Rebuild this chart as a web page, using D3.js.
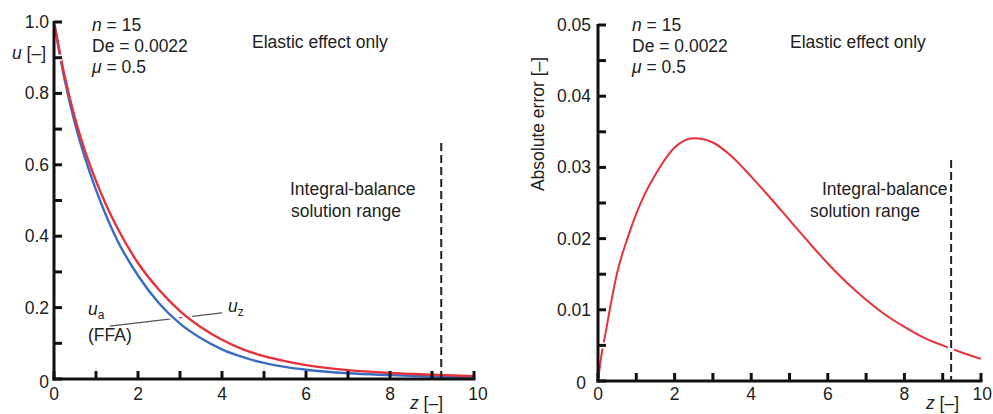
<!DOCTYPE html>
<html>
  <head>
    <meta charset="utf-8">
    <script src="https://d3js.org/d3.v7.min.js"></script>
    <style>
      body { margin: 0; background: #fff; }
      text { font-family: "Liberation Sans", Arial, sans-serif; fill: #222; }
    </style>
  </head>
  <body>
    <div id="main"></div>
    <script>
      // data
      const zLeft = [0, 0.25, 0.5, 0.75, 1, 1.25, 1.5, 2, 2.5, 3, 3.5, 4, 4.5, 5, 5.5, 6, 7, 8, 9, 10];
      const uZ = [1.0, 0.85, 0.73, 0.635, 0.555, 0.485, 0.425, 0.325, 0.25, 0.19, 0.145, 0.11, 0.083, 0.064, 0.05, 0.039, 0.025, 0.017, 0.012, 0.008];
      const uA = [1.0, 0.84, 0.715, 0.615, 0.53, 0.455, 0.39, 0.29, 0.212, 0.155, 0.114, 0.083, 0.061, 0.045, 0.034, 0.026, 0.016, 0.011, 0.007, 0.005];

      const zRight = [0, 0.1, 0.2, 0.3, 0.5, 0.78, 1, 1.2, 1.5, 2, 2.5, 3, 3.5, 4, 4.5, 5, 5.5, 6, 6.5, 7, 7.5, 8, 8.5, 9, 9.5, 10];
      const absErr = [0, 0.004, 0.0068, 0.0098, 0.0152, 0.0202, 0.0235, 0.026, 0.029, 0.0328, 0.0341, 0.0335, 0.0315, 0.0287, 0.0257, 0.0226, 0.0195, 0.0165, 0.0138, 0.0114, 0.0093, 0.0076, 0.0061, 0.005, 0.004, 0.0031];

      const leftYTicks = [0, 0.2, 0.4, 0.6, 0.8, 1.0];
      const leftYTickLabels = ["0", "0.2", "0.4", "0.6", "0.8", "1.0"];
      const rightYTicks = [0, 0.01, 0.02, 0.03, 0.04, 0.05];
      const rightYTickLabels = ["0", "0.01", "0.02", "0.03", "0.04", "0.05"];
      const xTicks = [0, 2, 4, 6, 8, 10];
      const zRangeEnd = 9.22;

      const svg = d3.select("#main").append("svg")
        .attr("width", 993).attr("height", 414);

      const RED = "#e5323b", BLUE = "#3b6cc4";
      const fs = 17.5;

      // ---------- left panel ----------
      const xL = d3.scaleLinear().domain([0, 10]).range([54, 474]);
      const yL = d3.scaleLinear().domain([0, 1]).range([379, 22]);

      // leader line for the labels
      svg.append("line")
        .attr("x1", xL(1.33)).attr("y1", yL(0.148))
        .attr("x2", xL(4.0)).attr("y2", yL(0.185))
        .attr("stroke", "#555").attr("stroke-width", 1.2);

      const lineL = (vals) => d3.line().curve(d3.curveMonotoneX)
        .x((d, i) => xL(zLeft[i])).y((d) => yL(d))(vals);

      // white halo so the leader line breaks around the curves
      svg.append("defs").append("clipPath").attr("id", "clipL")
        .append("rect").attr("x", 40).attr("y", 0).attr("width", 450).attr("height", yL(0) - 3);
      [uA, uZ].forEach((v) => {
        svg.append("path").attr("d", lineL(v)).attr("fill", "none")
          .attr("stroke", "#fff").attr("stroke-width", 7).attr("clip-path", "url(#clipL)");
      });
      svg.append("path").attr("d", lineL(uA)).attr("fill", "none")
        .attr("stroke", BLUE).attr("stroke-width", 2.4);
      svg.append("path").attr("d", lineL(uZ)).attr("fill", "none")
        .attr("stroke", RED).attr("stroke-width", 2.4);

      // dashed line
      svg.append("line")
        .attr("x1", xL(zRangeEnd)).attr("x2", xL(zRangeEnd))
        .attr("y1", 143).attr("y2", yL(0))
        .attr("stroke", "#222").attr("stroke-width", 2).attr("stroke-dasharray", "8,4");

      function drawAxes(x, y, yMinor, xMinor) {
        const g = svg.append("g");
        // y ticks (inward), with white halo
        yMinor.forEach((t) => {
          g.append("line").attr("x1", x(0)).attr("x2", x(0) + 8)
            .attr("y1", y(t)).attr("y2", y(t)).attr("stroke", "#fff").attr("stroke-width", 6);
        });
        yMinor.forEach((t) => {
          g.append("line").attr("x1", x(0)).attr("x2", x(0) + 8)
            .attr("y1", y(t)).attr("y2", y(t)).attr("stroke", "#111").attr("stroke-width", 3);
        });
        xMinor.forEach((t) => {
          g.append("line").attr("x1", x(t)).attr("x2", x(t))
            .attr("y1", y(0)).attr("y2", y(0) - 8).attr("stroke", "#111").attr("stroke-width", 3);
        });
        g.append("line").attr("x1", x(0)).attr("x2", x(0))
          .attr("y1", y(0) + 1.5).attr("y2", y.range()[1] - 1).attr("stroke", "#111").attr("stroke-width", 3);
        g.append("line").attr("x1", x(0) - 1.5).attr("x2", x(10) + 1.5)
          .attr("y1", y(0)).attr("y2", y(0)).attr("stroke", "#111").attr("stroke-width", 3);
      }

      drawAxes(xL, yL, d3.range(0, 11).map((i) => i / 10), d3.range(0, 11));

      leftYTicks.forEach((t, i) => {
        svg.append("text").attr("x", xL(0) - 5).attr("y", yL(t) + (t === 0 ? 9 : 6))
          .attr("text-anchor", "end").attr("font-size", fs).text(leftYTickLabels[i]);
      });
      xTicks.forEach((t) => {
        svg.append("text").attr("x", xL(t) + (t === 10 ? 4 : 0)).attr("y", yL(0) + 21)
          .attr("text-anchor", "middle").attr("font-size", fs).text(t);
      });

      // axis titles
      const uLab = svg.append("text").attr("x", 46).attr("y", 59)
        .attr("text-anchor", "end").attr("font-size", fs);
      uLab.append("tspan").attr("font-style", "italic").text("u");
      uLab.append("tspan").text(" [\u2013]");

      function zTitle(xPos, yPos) {
        const t = svg.append("text").attr("x", xPos).attr("y", yPos).attr("font-size", fs);
        t.append("tspan").attr("font-style", "italic").text("z");
        t.append("tspan").text(" [\u2013]");
      }
      zTitle(410, 409);

      function params(xPos) {
        const a = svg.append("text").attr("x", xPos).attr("y", 31).attr("font-size", fs);
        a.append("tspan").attr("font-style", "italic").text("n");
        a.append("tspan").text(" = 15");
        svg.append("text").attr("x", xPos).attr("y", 52).attr("font-size", fs).text("De = 0.0022");
        const c = svg.append("text").attr("x", xPos).attr("y", 73).attr("font-size", fs);
        c.append("tspan").attr("font-style", "italic").text("\u03bc");
        c.append("tspan").text(" = 0.5");
      }
      params(92);

      svg.append("text").attr("x", 252).attr("y", 48).attr("font-size", fs).text("Elastic effect only");
      svg.append("text").attr("x", 290).attr("y", 195).attr("font-size", fs).text("Integral-balance");
      svg.append("text").attr("x", 291).attr("y", 217).attr("font-size", fs).text("solution range");

      // curve labels
      const ua = svg.append("text").attr("x", 88).attr("y", 315).attr("font-size", fs);
      ua.append("tspan").attr("font-style", "italic").text("u");
      ua.append("tspan").attr("font-size", 12).attr("dy", 4).text("a");
      svg.append("text").attr("x", 88).attr("y", 341).attr("font-size", fs).text("(FFA)");
      const uz = svg.append("text").attr("x", 228).attr("y", 312).attr("font-size", fs);
      uz.append("tspan").attr("font-style", "italic").text("u");
      uz.append("tspan").attr("font-size", 12).attr("dy", 4).text("z");

      // ---------- right panel ----------
      const xR = d3.scaleLinear().domain([0, 10]).range([598, 981]);
      const yR = d3.scaleLinear().domain([0, 0.05]).range([381, 25]);

      svg.append("path")
        .attr("d", d3.line().curve(d3.curveMonotoneX)
          .x((d, i) => xR(zRight[i])).y((d) => yR(d))(absErr))
        .attr("fill", "none").attr("stroke", RED).attr("stroke-width", 2);

      svg.append("line")
        .attr("x1", xR(zRangeEnd)).attr("x2", xR(zRangeEnd))
        .attr("y1", 160).attr("y2", yR(0) - 4)
        .attr("stroke", "#fff").attr("stroke-width", 6);
      svg.append("line")
        .attr("x1", xR(zRangeEnd)).attr("x2", xR(zRangeEnd))
        .attr("y1", 160).attr("y2", yR(0))
        .attr("stroke", "#222").attr("stroke-width", 2).attr("stroke-dasharray", "8,4");

      drawAxes(xR, yR, d3.range(0, 11).map((i) => i * 0.005), d3.range(0, 11));

      rightYTicks.forEach((t, i) => {
        svg.append("text").attr("x", xR(0) - 7 - (t === 0 ? 5 : 0)).attr("y", yR(t) + (t === 0 ? 8 : 6))
          .attr("text-anchor", "end").attr("font-size", fs).text(rightYTickLabels[i]);
      });
      xTicks.forEach((t) => {
        const last = t === 10;
        svg.append("text").attr("x", last ? 992 : xR(t)).attr("y", yR(0) + 19)
          .attr("text-anchor", last ? "end" : "middle").attr("font-size", fs).text(t);
      });

      svg.append("text").attr("transform", "translate(544,124) rotate(-90)")
        .attr("text-anchor", "middle").attr("font-size", fs).text("Absolute error [\u2013]");
      zTitle(926, 409);
      params(632);
      svg.append("text").attr("x", 790).attr("y", 48).attr("font-size", fs).text("Elastic effect only");
      svg.append("text").attr("x", 822).attr("y", 195).attr("font-size", fs).text("Integral-balance");
      svg.append("text").attr("x", 810).attr("y", 217).attr("font-size", fs).text("solution range");
    </script>
  </body>
</html>
